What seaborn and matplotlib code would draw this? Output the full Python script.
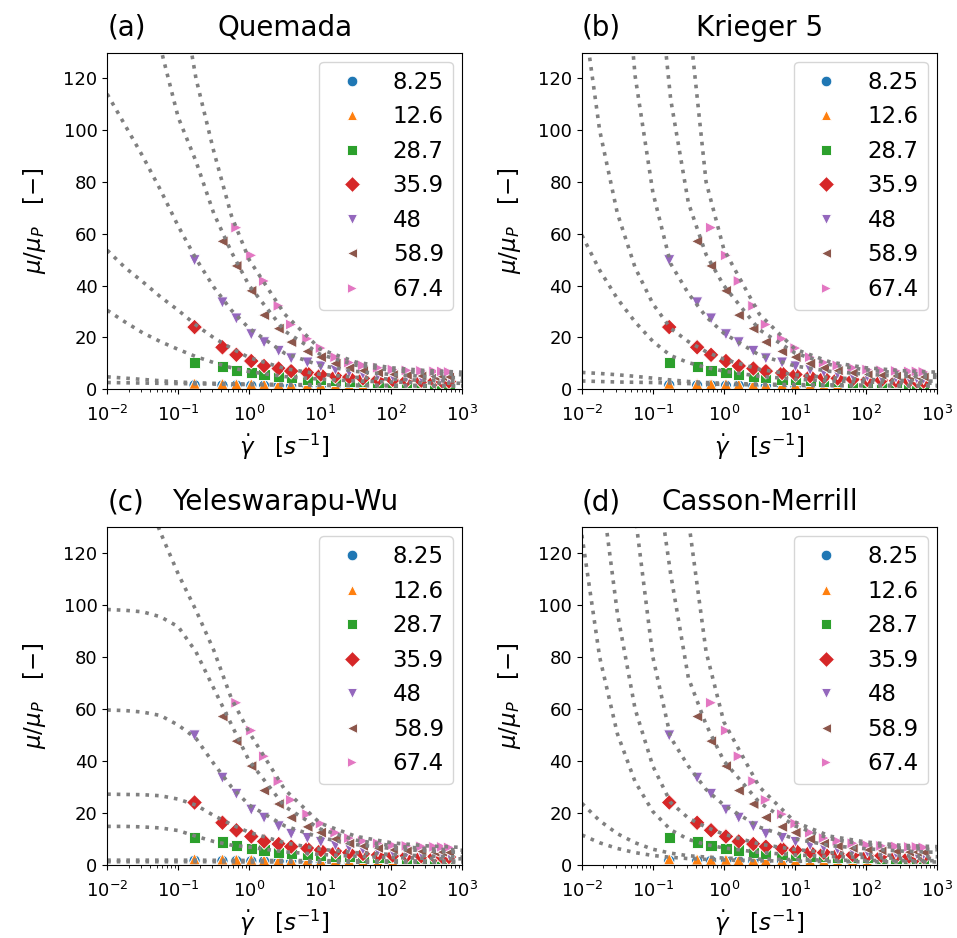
import numpy as np
import pandas as pd
import matplotlib
matplotlib.use('Agg')
import matplotlib.pyplot as plt
import seaborn as sns

# measured shear rates [1/s]
shear = [0.17, 0.42, 0.66, 1.07, 1.62, 2.6, 3.9, 6.6, 10.2, 16.4, 25.6, 40,
         65, 105, 165, 265, 405, 520, 650]
hct_labels = ['8.25', '12.6', '28.7', '35.9', '48', '58.9', '67.4']

# relative viscosity per series (first index where the series starts)
start_idx = [0, 0, 0, 0, 0, 1, 2]
mu_825 = [1.6, 1.5, 1.5, 1.4, 1.4, 1.3, 1.3, 1.3, 1.2, 1.2, 1.2, 1.1, 1.1,
          1.1, 1.1, 1.0, 1.0, 1.0, 1.0]
mu_126 = [2.2, 2.1, 2.0, 2.0, 1.9, 1.9, 1.8, 1.8, 1.7, 1.7, 1.6, 1.6, 1.6,
          1.5, 1.5, 1.5, 1.5, 1.4, 1.4]
mu_287 = [10.4, 8.8, 7.4, 6.4, 5.7, 4.8, 4.4, 4.0, 3.7, 3.4, 3.2, 3.0, 2.8,
          2.7, 2.6, 2.5, 2.4, 2.4, 2.3]
mu_359 = [24.0, 16.2, 13.3, 10.9, 9.0, 8.0, 7.0, 6.3, 5.7, 5.1, 4.7, 4.2,
          3.8, 3.6, 3.5, 3.3, 3.2, 3.1, 3.0]
mu_48 = [49.8, 33.5, 27.3, 21.2, 18.1, 14.8, 11.9, 10.3, 8.8, 7.5, 6.6, 5.9,
         5.3, 4.9, 4.6, 4.4, 4.2, 4.1, 4.0]
mu_589 = [57.1, 47.6, 38.0, 28.6, 23.4, 18.2, 14.6, 12.4, 9.9, 8.3, 7.3, 6.5,
          6.0, 5.6, 5.3, 5.0, 5.0, 4.9]
mu_674 = [62.4, 51.7, 41.8, 32.2, 25.0, 19.5, 15.9, 12.4, 10.3, 9.2, 8.3,
          7.6, 7.3, 7.1, 6.9, 6.9, 6.7]
measured = [mu_825, mu_126, mu_287, mu_359, mu_48, mu_589, mu_674]

fit_shear = [0.01, 0.0178, 0.0316, 0.0562, 0.1, 0.178, 0.316, 0.562, 1.0,
             3.16, 10, 31.6, 100, 316, 1000]
quemada_fits = [
    [2.6, 2.5, 2.4, 2.3, 2.2, 2.1, 2.0, 1.9, 1.8, 1.6, 1.5, 1.4, 1.3, 1.25, 1.2],
    [4.8, 4.3, 3.8, 3.3, 2.8, 2.5, 2.3, 2.1, 2.0, 1.85, 1.7, 1.6, 1.55, 1.5, 1.5],
    [30.5, 26, 21.8, 18.4, 15.4, 12.6, 10.3, 8.3, 6.8, 4.9, 3.9, 3.2, 2.8, 2.5, 2.3],
    [53.7, 47, 41.5, 35.7, 30.5, 24.8, 19.9, 15.8, 12.2, 8.0, 5.8, 4.6, 3.9, 3.4, 3.1],
    [114, 102, 90, 77, 63, 50.4, 39.5, 30.5, 23.5, 13.9, 9.2, 6.9, 5.7, 4.9, 4.4],
    [240, 200, 165, 132, 105, 88, 68, 53, 40, 22.5, 13.5, 9.3, 7.3, 6.2, 5.6],
    [350, 300, 250, 200, 160, 120, 92, 67, 50, 29, 15.5, 10.5, 8.3, 7.2, 6.6],
]
krieger_fits = [
    [3.2, 3.0, 2.8, 2.7, 2.6, 2.4, 2.2, 2.0, 1.9, 1.7, 1.5, 1.4, 1.3, 1.25, 1.2],
    [6.5, 6.1, 5.6, 5.0, 4.3, 3.6, 3.0, 2.6, 2.3, 2.0, 1.8, 1.7, 1.6, 1.5, 1.5],
    [59.5, 46, 35, 26, 18.5, 13, 10.3, 8.4, 7.0, 5.0, 3.9, 3.2, 2.8, 2.5, 2.3],
    [150, 100, 68, 47, 33, 23.5, 18.4, 14.5, 11.6, 7.7, 5.6, 4.5, 3.8, 3.4, 3.1],
    [400, 300, 200, 121, 76, 48.5, 37, 28, 21.6, 13.2, 9.0, 6.9, 5.8, 5.0, 4.6],
    [500, 400, 300, 240, 180, 112, 72, 52, 40, 23, 14, 9.5, 7.5, 6.2, 5.6],
    [600, 500, 420, 350, 290, 230, 145, 80, 54, 29, 15.5, 10.5, 8.3, 7.2, 6.6],
]
yw_fits = [
    [1.2, 1.2, 1.2, 1.2, 1.2, 1.2, 1.2, 1.15, 1.1, 1.1, 1.05, 1.0, 1.0, 1.0, 1.0],
    [1.8, 1.8, 1.8, 1.8, 1.8, 1.8, 1.75, 1.7, 1.7, 1.65, 1.6, 1.55, 1.5, 1.5, 1.45],
    [14.8, 14.8, 14.6, 14.2, 13.2, 11.0, 9.0, 7.6, 6.8, 5.0, 4.0, 3.3, 2.8, 2.5, 2.3],
    [27.2, 27.1, 27.0, 26.6, 25.3, 23.0, 19.0, 15.5, 12.5, 8.5, 6.0, 4.7, 4.0, 3.4, 3.0],
    [59.6, 59.4, 58.8, 57.5, 53.8, 48.7, 39.0, 30.0, 23.0, 15.0, 10.5, 7.8, 6.3, 5.3, 4.8],
    [98.3, 98, 97.4, 95.5, 91.7, 82, 68, 54, 40, 22.5, 13.8, 9.5, 7.4, 6.2, 5.6],
    [155, 152, 145, 128, 112, 98, 82.7, 64, 51, 29, 16, 11, 8.5, 7.3, 6.7],
]
casson_fits = [
    [11.5, 8.5, 6.3, 4.7, 3.6, 2.9, 2.4, 2.1, 1.9, 1.6, 1.4, 1.3, 1.2, 1.15, 1.1],
    [23.7, 17, 12, 8.5, 6.0, 4.5, 3.5, 3.0, 2.6, 2.2, 2.0, 1.8, 1.7, 1.6, 1.6],
    [127, 80, 50.5, 32, 20.5, 13.5, 9.8, 7.8, 6.5, 4.8, 3.8, 3.2, 2.8, 2.5, 2.3],
    [260, 150, 97, 60, 38, 24, 18, 14.5, 11.8, 8, 5.9, 4.7, 4.0, 3.5, 3.1],
    [600, 400, 260, 135, 80, 49, 38, 29, 23, 14.5, 10, 7.4, 6.2, 5.3, 4.8],
    [600, 450, 320, 220, 160, 112, 72, 54, 40, 24, 15, 10, 7.8, 6.5, 5.8],
    [800, 600, 480, 400, 330, 250, 133, 82, 55, 30, 16.5, 11, 8.8, 7.5, 7.0],
]
panel_tags = ['(a)', '(b)', '(c)', '(d)']
panel_names = ['Quemada', 'Krieger 5', 'Yeleswarapu-Wu', 'Casson-Merrill']
panel_fits = [quemada_fits, krieger_fits, yw_fits, casson_fits]

rows = []
for lab, s0, vals in zip(hct_labels, start_idx, measured):
    for g, m in zip(shear[s0:], vals):
        rows.append({'shear': g, 'mu': m, 'Ht': lab})
df = pd.DataFrame(rows)

markers = ['o', '^', 's', 'D', 'v', '<', '>']
palette = sns.color_palette('tab10', 7)

fig = plt.figure(figsize=(9.57, 9.38), dpi=100)
boxes = [[0.112, 0.585, 0.371, 0.359], [0.608, 0.585, 0.371, 0.359],
         [0.112, 0.078, 0.371, 0.360], [0.608, 0.078, 0.371, 0.360]]

for i in range(4):
    ax = fig.add_axes(boxes[i])
    sns.scatterplot(data=df, x='shear', y='mu', hue='Ht', style='Ht',
                    hue_order=hct_labels, style_order=hct_labels,
                    markers=markers, palette=palette, s=65, ax=ax)
    for curve in panel_fits[i]:
        ax.plot(fit_shear, curve, ls=':', color='gray', lw=2.6)
    ax.set_xscale('log')
    ax.set_xlim(1e-2, 1e3)
    ax.set_ylim(0, 130)
    ax.set_yticks([0, 20, 40, 60, 80, 100, 120])
    ax.tick_params(labelsize=13)
    ax.tick_params(axis='x', which='major', pad=8)
    ax.set_xlabel(r'$\dot{\gamma}$   $[s^{-1}]$', fontsize=16.5, labelpad=5)
    ax.set_ylabel(r'$\mu/\mu_P$   $[-]$', fontsize=16.5, labelpad=11)
    ax.set_title(panel_tags[i], loc='left', fontsize=20, pad=12)
    ax.set_title(panel_names[i], fontsize=20, pad=12)
    leg = ax.get_legend()
    handles = leg.legend_handles
    labels = [t.get_text() for t in leg.get_texts()]
    ax.legend(handles, labels, loc='upper right', fontsize=16.5,
              handlelength=2.0, handletextpad=0.8, labelspacing=0.5,
              markerscale=0.95, borderaxespad=0.4)

fig.savefig('out.png', dpi=100)
